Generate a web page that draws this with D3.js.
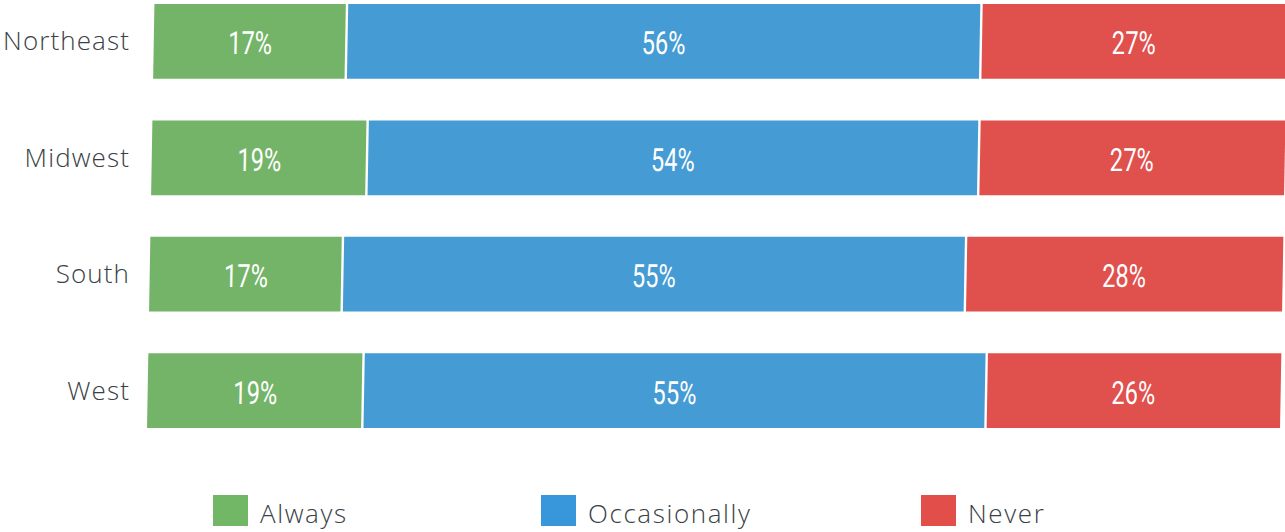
<!DOCTYPE html>
<html>
<head>
<meta charset="utf-8">
<script src="https://cdn.jsdelivr.net/npm/d3@7"></script>
<style>
  html, body { margin: 0; padding: 0; background: #fff; }
  svg { display: block; }
</style>
</head>
<body>
<svg id="chart" width="1285" height="532"></svg>
<script>
// Share of respondents per region, by answer
const regions = ["Northeast", "Midwest", "South", "West"];
const answers = ["Always", "Occasionally", "Never"];
const always = [17, 19, 17, 19];
const occasionally = [56, 54, 55, 55];
const never = [27, 27, 28, 26];
const barColors = ["#74b468", "#459bd4", "#e0504d"];
const legendColors = ["#72b765", "#3897db", "#e24f4a"];

const svg = d3.select("#chart");

const x = d3.scaleLinear().domain([0, 100]).range([154.5, 1287.5]);
const y = d3.scaleBand().domain(regions).range([4, 428]).paddingInner(0.357).paddingOuter(0);

const rows = regions.map((r, i) => {
  const vals = [always[i], occasionally[i], never[i]];
  let acc = 0;
  return {
    region: r,
    segs: vals.map((v, k) => {
      const s = { key: answers[k], k, v, x0: acc, x1: acc + v };
      acc += v;
      return s;
    })
  };
});

// Stacked bars (slightly sheared, as in the original layout)
const bars = svg.append("g").attr("transform", "skewX(-1)");
const gap = 1.2;
const row = bars.selectAll("g.row").data(rows).join("g")
  .attr("class", "row")
  .attr("transform", d => `translate(0,${y(d.region)})`);

row.selectAll("rect").data(d => d.segs).join("rect")
  .attr("x", d => x(d.x0) + (d.k > 0 ? gap : 0))
  .attr("y", 0)
  .attr("width", d => x(d.x1) - x(d.x0) - (d.k > 0 ? gap : 0) - (d.k < 2 ? gap : 0))
  .attr("height", y.bandwidth())
  .attr("fill", d => barColors[d.k]);

// Condensed value labels centred in each segment
row.selectAll("text").data(d => d.segs).join("text")
  .attr("transform", d => `translate(${(x(d.x0) + x(d.x1)) / 2},${y.bandwidth() / 2 + 13}) scale(0.74,1)`)
  .attr("text-anchor", "middle")
  .attr("font-family", "Roboto, 'DejaVu Sans Condensed', sans-serif")
  .attr("font-size", 32)
  .attr("fill", "#ffffff")
  .text(d => d.v + "%");

// Region labels
const labelFont = "'Open Sans', 'DejaVu Sans', sans-serif";
svg.append("g").selectAll("text").data(regions).join("text")
  .attr("x", 130)
  .attr("y", d => y(d) + y.bandwidth() / 2 + 9)
  .attr("text-anchor", "end")
  .attr("font-family", labelFont)
  .attr("font-weight", 300)
  .attr("font-size", 26)
  .attr("letter-spacing", 1.1)
  .attr("fill", "#3a3f45")
  .text(d => d);

// Legend
const legendPos = [213, 541, 921];
const leg = svg.append("g").selectAll("g").data(answers).join("g")
  .attr("transform", (d, i) => `translate(${legendPos[i]},495)`);
leg.append("rect")
  .attr("width", 35).attr("height", 31)
  .attr("fill", (d, i) => legendColors[i]);
leg.append("text")
  .attr("x", 47).attr("y", 28)
  .attr("font-family", labelFont)
  .attr("font-weight", 300)
  .attr("font-size", 26)
  .attr("letter-spacing", 1.6)
  .attr("fill", "#3a3f45")
  .text(d => d);
</script>
</body>
</html>
